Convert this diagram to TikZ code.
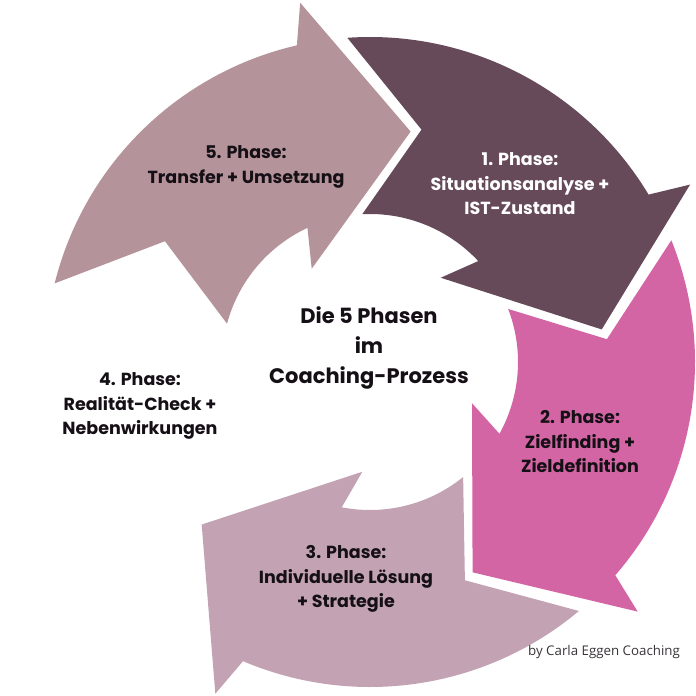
\documentclass[tikz,border=0pt]{standalone}
\usepackage{fontspec}
\setmainfont{Poppins}
\newfontfamily\creditfont{Open Sans}

\definecolor{phaseone}{HTML}{664A5A}
\definecolor{phasetwo}{HTML}{D465A5}
\definecolor{phasethree}{HTML}{C3A3B3}
\definecolor{phasefive}{HTML}{B5939A}
\definecolor{ink}{HTML}{151015}

\begin{document}
\begin{tikzpicture}[
  x=1pt, y=1pt,
  phase/.style={align=center, text=ink, font=\fontsize{17.5}{24.5}\selectfont\bfseries},
  title/.style={align=center, text=ink, font=\fontsize{21}{30}\selectfont\bfseries}
]
  \useasboundingbox (0,0) rectangle (696,-696);

  % Arrows round the circle
  \begin{scope}[shift={(370,-362)}]
    \foreach \a/\col in {166/phasefive, 94/phaseone, 22/phasetwo, -50/phasethree}
      \fill[\col] (\a:325) arc[start angle=\a, end angle=\a-63, radius=325]
        -- (\a-65:366) -- (\a-86:234) -- (\a-44:110) -- (\a-51:148)
        arc[start angle=\a-51, end angle=\a-1, radius=148]
        -- (\a-16.5:238) -- cycle;
  \end{scope}

  \node[title] (title) at (369,-348) {Die 5 Phasen\\im\\Coaching-Prozess};

  \node[phase, text=white] (one) at (520,-184) {1. Phase:\\Situationsanalyse +\\IST-Zustand};
  \node[phase] (two) at (580,-442) {2. Phase:\\Zielfinding +\\Zieldefinition};
  \node[phase] (three) at (346,-579) {3. Phase:\\Individuelle Lösung\\+ Strategie};
  \node[phase] (four) at (140,-406) {4. Phase:\\Realität-Check +\\Nebenwirkungen};
  \node[phase] (five) at (246,-167) {5. Phase:\\Transfer + Umsetzung};

  % Credit line
  \node[text=ink!85, font=\creditfont\fontsize{13.3}{16}\selectfont] (credit) at (604,-652) {by Carla Eggen Coaching};
\end{tikzpicture}
\end{document}
